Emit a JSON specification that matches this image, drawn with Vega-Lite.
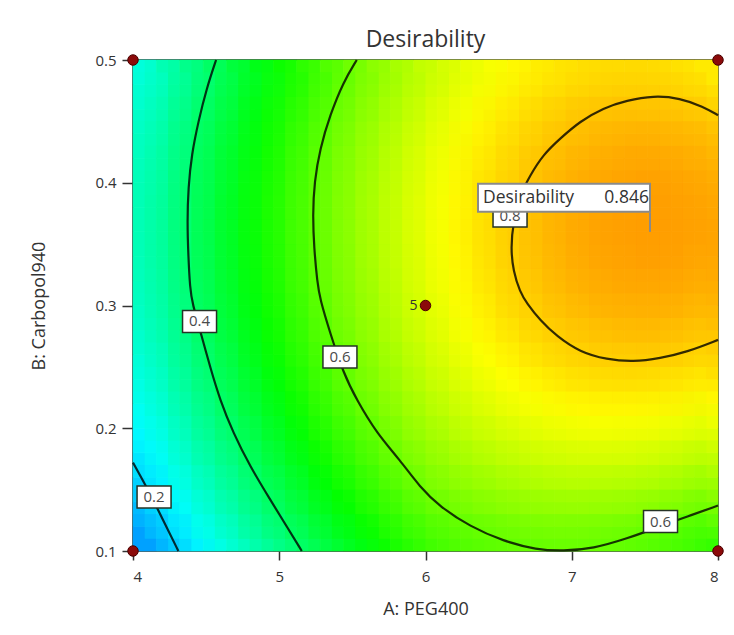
{
"$schema": "https://vega.github.io/schema/vega-lite/v6.json",
"width": 585,
"height": 491,
"autosize": "none",
"padding": {"left": 133, "top": 60, "right": 16, "bottom": 84},
"background": "white",
"config": {
  "font": "Open Sans",
  "view": {"stroke": "#1f2a1f", "strokeWidth": 1.5},
  "axis": {"grid": false, "domain": false, "tickWidth": 1.5, "tickColor": "#333333", "labelFontSize": 15, "labelColor": "#333333", "titleFontSize": 18, "titleFontWeight": "normal", "titleColor": "#333333"}
},
"title": {"text": "Desirability", "fontSize": 23, "fontWeight": "normal", "color": "#333333", "offset": 1, "anchor": "middle"},
"datasets": {
"grid": [
{"a":4.08,"b":0.11,"d":0.158},{"a":4.08,"b":0.13,"d":0.183},{"a":4.08,"b":0.15,"d":0.205},{"a":4.08,"b":0.17,"d":0.226},{"a":4.08,"b":0.19,"d":0.245},{"a":4.08,"b":0.21,"d":0.261},{"a":4.08,"b":0.23,"d":0.276},{"a":4.08,"b":0.25,"d":0.288},{"a":4.08,"b":0.27,"d":0.299},{"a":4.08,"b":0.29,"d":0.308},{"a":4.08,"b":0.31,"d":0.314},{"a":4.08,"b":0.33,"d":0.319},{"a":4.08,"b":0.35,"d":0.321},{"a":4.08,"b":0.37,"d":0.322},{"a":4.08,"b":0.39,"d":0.321},{"a":4.08,"b":0.41,"d":0.317},{"a":4.08,"b":0.43,"d":0.312},{"a":4.08,"b":0.45,"d":0.304},{"a":4.08,"b":0.47,"d":0.295},{"a":4.08,"b":0.49,"d":0.284},
{"a":4.24,"b":0.11,"d":0.198},{"a":4.24,"b":0.13,"d":0.223},{"a":4.24,"b":0.15,"d":0.245},{"a":4.24,"b":0.17,"d":0.266},{"a":4.24,"b":0.19,"d":0.285},{"a":4.24,"b":0.21,"d":0.301},{"a":4.24,"b":0.23,"d":0.316},{"a":4.24,"b":0.25,"d":0.328},{"a":4.24,"b":0.27,"d":0.339},{"a":4.24,"b":0.29,"d":0.348},{"a":4.24,"b":0.31,"d":0.354},{"a":4.24,"b":0.33,"d":0.359},{"a":4.24,"b":0.35,"d":0.361},{"a":4.24,"b":0.37,"d":0.362},{"a":4.24,"b":0.39,"d":0.361},{"a":4.24,"b":0.41,"d":0.357},{"a":4.24,"b":0.43,"d":0.352},{"a":4.24,"b":0.45,"d":0.344},{"a":4.24,"b":0.47,"d":0.335},{"a":4.24,"b":0.49,"d":0.324},
{"a":4.4,"b":0.11,"d":0.238},{"a":4.4,"b":0.13,"d":0.263},{"a":4.4,"b":0.15,"d":0.285},{"a":4.4,"b":0.17,"d":0.306},{"a":4.4,"b":0.19,"d":0.325},{"a":4.4,"b":0.21,"d":0.341},{"a":4.4,"b":0.23,"d":0.356},{"a":4.4,"b":0.25,"d":0.368},{"a":4.4,"b":0.27,"d":0.379},{"a":4.4,"b":0.29,"d":0.388},{"a":4.4,"b":0.31,"d":0.394},{"a":4.4,"b":0.33,"d":0.399},{"a":4.4,"b":0.35,"d":0.401},{"a":4.4,"b":0.37,"d":0.402},{"a":4.4,"b":0.39,"d":0.401},{"a":4.4,"b":0.41,"d":0.397},{"a":4.4,"b":0.43,"d":0.392},{"a":4.4,"b":0.45,"d":0.384},{"a":4.4,"b":0.47,"d":0.375},{"a":4.4,"b":0.49,"d":0.364},
{"a":4.56,"b":0.11,"d":0.276},{"a":4.56,"b":0.13,"d":0.301},{"a":4.56,"b":0.15,"d":0.323},{"a":4.56,"b":0.17,"d":0.344},{"a":4.56,"b":0.19,"d":0.363},{"a":4.56,"b":0.21,"d":0.379},{"a":4.56,"b":0.23,"d":0.394},{"a":4.56,"b":0.25,"d":0.406},{"a":4.56,"b":0.27,"d":0.417},{"a":4.56,"b":0.29,"d":0.426},{"a":4.56,"b":0.31,"d":0.432},{"a":4.56,"b":0.33,"d":0.437},{"a":4.56,"b":0.35,"d":0.439},{"a":4.56,"b":0.37,"d":0.44},{"a":4.56,"b":0.39,"d":0.439},{"a":4.56,"b":0.41,"d":0.435},{"a":4.56,"b":0.43,"d":0.43},{"a":4.56,"b":0.45,"d":0.422},{"a":4.56,"b":0.47,"d":0.413},{"a":4.56,"b":0.49,"d":0.402},
{"a":4.72,"b":0.11,"d":0.314},{"a":4.72,"b":0.13,"d":0.339},{"a":4.72,"b":0.15,"d":0.361},{"a":4.72,"b":0.17,"d":0.382},{"a":4.72,"b":0.19,"d":0.401},{"a":4.72,"b":0.21,"d":0.417},{"a":4.72,"b":0.23,"d":0.432},{"a":4.72,"b":0.25,"d":0.444},{"a":4.72,"b":0.27,"d":0.455},{"a":4.72,"b":0.29,"d":0.464},{"a":4.72,"b":0.31,"d":0.47},{"a":4.72,"b":0.33,"d":0.475},{"a":4.72,"b":0.35,"d":0.477},{"a":4.72,"b":0.37,"d":0.478},{"a":4.72,"b":0.39,"d":0.477},{"a":4.72,"b":0.41,"d":0.473},{"a":4.72,"b":0.43,"d":0.468},{"a":4.72,"b":0.45,"d":0.46},{"a":4.72,"b":0.47,"d":0.451},{"a":4.72,"b":0.49,"d":0.44},
{"a":4.88,"b":0.11,"d":0.351},{"a":4.88,"b":0.13,"d":0.376},{"a":4.88,"b":0.15,"d":0.398},{"a":4.88,"b":0.17,"d":0.419},{"a":4.88,"b":0.19,"d":0.438},{"a":4.88,"b":0.21,"d":0.454},{"a":4.88,"b":0.23,"d":0.469},{"a":4.88,"b":0.25,"d":0.481},{"a":4.88,"b":0.27,"d":0.492},{"a":4.88,"b":0.29,"d":0.501},{"a":4.88,"b":0.31,"d":0.507},{"a":4.88,"b":0.33,"d":0.512},{"a":4.88,"b":0.35,"d":0.514},{"a":4.88,"b":0.37,"d":0.515},{"a":4.88,"b":0.39,"d":0.514},{"a":4.88,"b":0.41,"d":0.51},{"a":4.88,"b":0.43,"d":0.505},{"a":4.88,"b":0.45,"d":0.497},{"a":4.88,"b":0.47,"d":0.488},{"a":4.88,"b":0.49,"d":0.477},
{"a":5.04,"b":0.11,"d":0.386},{"a":5.04,"b":0.13,"d":0.411},{"a":5.04,"b":0.15,"d":0.433},{"a":5.04,"b":0.17,"d":0.454},{"a":5.04,"b":0.19,"d":0.473},{"a":5.04,"b":0.21,"d":0.489},{"a":5.04,"b":0.23,"d":0.504},{"a":5.04,"b":0.25,"d":0.516},{"a":5.04,"b":0.27,"d":0.527},{"a":5.04,"b":0.29,"d":0.536},{"a":5.04,"b":0.31,"d":0.542},{"a":5.04,"b":0.33,"d":0.547},{"a":5.04,"b":0.35,"d":0.549},{"a":5.04,"b":0.37,"d":0.55},{"a":5.04,"b":0.39,"d":0.549},{"a":5.04,"b":0.41,"d":0.545},{"a":5.04,"b":0.43,"d":0.54},{"a":5.04,"b":0.45,"d":0.532},{"a":5.04,"b":0.47,"d":0.523},{"a":5.04,"b":0.49,"d":0.512},
{"a":5.2,"b":0.11,"d":0.42},{"a":5.2,"b":0.13,"d":0.445},{"a":5.2,"b":0.15,"d":0.467},{"a":5.2,"b":0.17,"d":0.488},{"a":5.2,"b":0.19,"d":0.507},{"a":5.2,"b":0.21,"d":0.523},{"a":5.2,"b":0.23,"d":0.538},{"a":5.2,"b":0.25,"d":0.55},{"a":5.2,"b":0.27,"d":0.561},{"a":5.2,"b":0.29,"d":0.57},{"a":5.2,"b":0.31,"d":0.576},{"a":5.2,"b":0.33,"d":0.581},{"a":5.2,"b":0.35,"d":0.583},{"a":5.2,"b":0.37,"d":0.584},{"a":5.2,"b":0.39,"d":0.583},{"a":5.2,"b":0.41,"d":0.579},{"a":5.2,"b":0.43,"d":0.574},{"a":5.2,"b":0.45,"d":0.566},{"a":5.2,"b":0.47,"d":0.557},{"a":5.2,"b":0.49,"d":0.546},
{"a":5.36,"b":0.11,"d":0.453},{"a":5.36,"b":0.13,"d":0.478},{"a":5.36,"b":0.15,"d":0.5},{"a":5.36,"b":0.17,"d":0.521},{"a":5.36,"b":0.19,"d":0.54},{"a":5.36,"b":0.21,"d":0.556},{"a":5.36,"b":0.23,"d":0.571},{"a":5.36,"b":0.25,"d":0.583},{"a":5.36,"b":0.27,"d":0.594},{"a":5.36,"b":0.29,"d":0.603},{"a":5.36,"b":0.31,"d":0.609},{"a":5.36,"b":0.33,"d":0.614},{"a":5.36,"b":0.35,"d":0.616},{"a":5.36,"b":0.37,"d":0.617},{"a":5.36,"b":0.39,"d":0.616},{"a":5.36,"b":0.41,"d":0.612},{"a":5.36,"b":0.43,"d":0.607},{"a":5.36,"b":0.45,"d":0.599},{"a":5.36,"b":0.47,"d":0.59},{"a":5.36,"b":0.49,"d":0.579},
{"a":5.52,"b":0.11,"d":0.483},{"a":5.52,"b":0.13,"d":0.508},{"a":5.52,"b":0.15,"d":0.53},{"a":5.52,"b":0.17,"d":0.551},{"a":5.52,"b":0.19,"d":0.57},{"a":5.52,"b":0.21,"d":0.586},{"a":5.52,"b":0.23,"d":0.601},{"a":5.52,"b":0.25,"d":0.613},{"a":5.52,"b":0.27,"d":0.624},{"a":5.52,"b":0.29,"d":0.633},{"a":5.52,"b":0.31,"d":0.639},{"a":5.52,"b":0.33,"d":0.644},{"a":5.52,"b":0.35,"d":0.646},{"a":5.52,"b":0.37,"d":0.647},{"a":5.52,"b":0.39,"d":0.646},{"a":5.52,"b":0.41,"d":0.642},{"a":5.52,"b":0.43,"d":0.637},{"a":5.52,"b":0.45,"d":0.629},{"a":5.52,"b":0.47,"d":0.62},{"a":5.52,"b":0.49,"d":0.609},
{"a":5.68,"b":0.11,"d":0.512},{"a":5.68,"b":0.13,"d":0.537},{"a":5.68,"b":0.15,"d":0.559},{"a":5.68,"b":0.17,"d":0.58},{"a":5.68,"b":0.19,"d":0.599},{"a":5.68,"b":0.21,"d":0.615},{"a":5.68,"b":0.23,"d":0.63},{"a":5.68,"b":0.25,"d":0.642},{"a":5.68,"b":0.27,"d":0.653},{"a":5.68,"b":0.29,"d":0.662},{"a":5.68,"b":0.31,"d":0.668},{"a":5.68,"b":0.33,"d":0.673},{"a":5.68,"b":0.35,"d":0.675},{"a":5.68,"b":0.37,"d":0.676},{"a":5.68,"b":0.39,"d":0.675},{"a":5.68,"b":0.41,"d":0.671},{"a":5.68,"b":0.43,"d":0.666},{"a":5.68,"b":0.45,"d":0.658},{"a":5.68,"b":0.47,"d":0.649},{"a":5.68,"b":0.49,"d":0.638},
{"a":5.84,"b":0.11,"d":0.539},{"a":5.84,"b":0.13,"d":0.564},{"a":5.84,"b":0.15,"d":0.586},{"a":5.84,"b":0.17,"d":0.607},{"a":5.84,"b":0.19,"d":0.626},{"a":5.84,"b":0.21,"d":0.642},{"a":5.84,"b":0.23,"d":0.657},{"a":5.84,"b":0.25,"d":0.669},{"a":5.84,"b":0.27,"d":0.68},{"a":5.84,"b":0.29,"d":0.689},{"a":5.84,"b":0.31,"d":0.695},{"a":5.84,"b":0.33,"d":0.7},{"a":5.84,"b":0.35,"d":0.702},{"a":5.84,"b":0.37,"d":0.703},{"a":5.84,"b":0.39,"d":0.702},{"a":5.84,"b":0.41,"d":0.698},{"a":5.84,"b":0.43,"d":0.693},{"a":5.84,"b":0.45,"d":0.685},{"a":5.84,"b":0.47,"d":0.676},{"a":5.84,"b":0.49,"d":0.665},
{"a":6.0,"b":0.11,"d":0.564},{"a":6.0,"b":0.13,"d":0.589},{"a":6.0,"b":0.15,"d":0.611},{"a":6.0,"b":0.17,"d":0.632},{"a":6.0,"b":0.19,"d":0.651},{"a":6.0,"b":0.21,"d":0.667},{"a":6.0,"b":0.23,"d":0.682},{"a":6.0,"b":0.25,"d":0.694},{"a":6.0,"b":0.27,"d":0.705},{"a":6.0,"b":0.29,"d":0.714},{"a":6.0,"b":0.31,"d":0.72},{"a":6.0,"b":0.33,"d":0.725},{"a":6.0,"b":0.35,"d":0.727},{"a":6.0,"b":0.37,"d":0.728},{"a":6.0,"b":0.39,"d":0.727},{"a":6.0,"b":0.41,"d":0.723},{"a":6.0,"b":0.43,"d":0.718},{"a":6.0,"b":0.45,"d":0.71},{"a":6.0,"b":0.47,"d":0.701},{"a":6.0,"b":0.49,"d":0.69},
{"a":6.16,"b":0.11,"d":0.577},{"a":6.16,"b":0.13,"d":0.603},{"a":6.16,"b":0.15,"d":0.627},{"a":6.16,"b":0.17,"d":0.649},{"a":6.16,"b":0.19,"d":0.669},{"a":6.16,"b":0.21,"d":0.687},{"a":6.16,"b":0.23,"d":0.702},{"a":6.16,"b":0.25,"d":0.715},{"a":6.16,"b":0.27,"d":0.727},{"a":6.16,"b":0.29,"d":0.736},{"a":6.16,"b":0.31,"d":0.743},{"a":6.16,"b":0.33,"d":0.748},{"a":6.16,"b":0.35,"d":0.75},{"a":6.16,"b":0.37,"d":0.751},{"a":6.16,"b":0.39,"d":0.75},{"a":6.16,"b":0.41,"d":0.746},{"a":6.16,"b":0.43,"d":0.74},{"a":6.16,"b":0.45,"d":0.732},{"a":6.16,"b":0.47,"d":0.722},{"a":6.16,"b":0.49,"d":0.71},
{"a":6.32,"b":0.11,"d":0.587},{"a":6.32,"b":0.13,"d":0.614},{"a":6.32,"b":0.15,"d":0.64},{"a":6.32,"b":0.17,"d":0.663},{"a":6.32,"b":0.19,"d":0.684},{"a":6.32,"b":0.21,"d":0.703},{"a":6.32,"b":0.23,"d":0.719},{"a":6.32,"b":0.25,"d":0.733},{"a":6.32,"b":0.27,"d":0.745},{"a":6.32,"b":0.29,"d":0.755},{"a":6.32,"b":0.31,"d":0.762},{"a":6.32,"b":0.33,"d":0.767},{"a":6.32,"b":0.35,"d":0.77},{"a":6.32,"b":0.37,"d":0.771},{"a":6.32,"b":0.39,"d":0.769},{"a":6.32,"b":0.41,"d":0.766},{"a":6.32,"b":0.43,"d":0.76},{"a":6.32,"b":0.45,"d":0.751},{"a":6.32,"b":0.47,"d":0.741},{"a":6.32,"b":0.49,"d":0.728},
{"a":6.48,"b":0.11,"d":0.594},{"a":6.48,"b":0.13,"d":0.623},{"a":6.48,"b":0.15,"d":0.65},{"a":6.48,"b":0.17,"d":0.675},{"a":6.48,"b":0.19,"d":0.697},{"a":6.48,"b":0.21,"d":0.717},{"a":6.48,"b":0.23,"d":0.734},{"a":6.48,"b":0.25,"d":0.749},{"a":6.48,"b":0.27,"d":0.762},{"a":6.48,"b":0.29,"d":0.772},{"a":6.48,"b":0.31,"d":0.78},{"a":6.48,"b":0.33,"d":0.785},{"a":6.48,"b":0.35,"d":0.788},{"a":6.48,"b":0.37,"d":0.789},{"a":6.48,"b":0.39,"d":0.787},{"a":6.48,"b":0.41,"d":0.783},{"a":6.48,"b":0.43,"d":0.777},{"a":6.48,"b":0.45,"d":0.768},{"a":6.48,"b":0.47,"d":0.757},{"a":6.48,"b":0.49,"d":0.743},
{"a":6.64,"b":0.11,"d":0.6},{"a":6.64,"b":0.13,"d":0.631},{"a":6.64,"b":0.15,"d":0.659},{"a":6.64,"b":0.17,"d":0.685},{"a":6.64,"b":0.19,"d":0.708},{"a":6.64,"b":0.21,"d":0.729},{"a":6.64,"b":0.23,"d":0.747},{"a":6.64,"b":0.25,"d":0.763},{"a":6.64,"b":0.27,"d":0.776},{"a":6.64,"b":0.29,"d":0.787},{"a":6.64,"b":0.31,"d":0.795},{"a":6.64,"b":0.33,"d":0.801},{"a":6.64,"b":0.35,"d":0.804},{"a":6.64,"b":0.37,"d":0.805},{"a":6.64,"b":0.39,"d":0.803},{"a":6.64,"b":0.41,"d":0.799},{"a":6.64,"b":0.43,"d":0.792},{"a":6.64,"b":0.45,"d":0.783},{"a":6.64,"b":0.47,"d":0.771},{"a":6.64,"b":0.49,"d":0.757},
{"a":6.8,"b":0.11,"d":0.603},{"a":6.8,"b":0.13,"d":0.636},{"a":6.8,"b":0.15,"d":0.665},{"a":6.8,"b":0.17,"d":0.692},{"a":6.8,"b":0.19,"d":0.717},{"a":6.8,"b":0.21,"d":0.738},{"a":6.8,"b":0.23,"d":0.757},{"a":6.8,"b":0.25,"d":0.774},{"a":6.8,"b":0.27,"d":0.788},{"a":6.8,"b":0.29,"d":0.799},{"a":6.8,"b":0.31,"d":0.808},{"a":6.8,"b":0.33,"d":0.814},{"a":6.8,"b":0.35,"d":0.817},{"a":6.8,"b":0.37,"d":0.818},{"a":6.8,"b":0.39,"d":0.816},{"a":6.8,"b":0.41,"d":0.812},{"a":6.8,"b":0.43,"d":0.805},{"a":6.8,"b":0.45,"d":0.795},{"a":6.8,"b":0.47,"d":0.783},{"a":6.8,"b":0.49,"d":0.768},
{"a":6.96,"b":0.11,"d":0.604},{"a":6.96,"b":0.13,"d":0.638},{"a":6.96,"b":0.15,"d":0.669},{"a":6.96,"b":0.17,"d":0.697},{"a":6.96,"b":0.19,"d":0.723},{"a":6.96,"b":0.21,"d":0.745},{"a":6.96,"b":0.23,"d":0.766},{"a":6.96,"b":0.25,"d":0.783},{"a":6.96,"b":0.27,"d":0.797},{"a":6.96,"b":0.29,"d":0.809},{"a":6.96,"b":0.31,"d":0.818},{"a":6.96,"b":0.33,"d":0.825},{"a":6.96,"b":0.35,"d":0.828},{"a":6.96,"b":0.37,"d":0.829},{"a":6.96,"b":0.39,"d":0.827},{"a":6.96,"b":0.41,"d":0.822},{"a":6.96,"b":0.43,"d":0.815},{"a":6.96,"b":0.45,"d":0.805},{"a":6.96,"b":0.47,"d":0.792},{"a":6.96,"b":0.49,"d":0.776},
{"a":7.12,"b":0.11,"d":0.602},{"a":7.12,"b":0.13,"d":0.637},{"a":7.12,"b":0.15,"d":0.669},{"a":7.12,"b":0.17,"d":0.699},{"a":7.12,"b":0.19,"d":0.726},{"a":7.12,"b":0.21,"d":0.75},{"a":7.12,"b":0.23,"d":0.771},{"a":7.12,"b":0.25,"d":0.789},{"a":7.12,"b":0.27,"d":0.804},{"a":7.12,"b":0.29,"d":0.816},{"a":7.12,"b":0.31,"d":0.826},{"a":7.12,"b":0.33,"d":0.832},{"a":7.12,"b":0.35,"d":0.836},{"a":7.12,"b":0.37,"d":0.837},{"a":7.12,"b":0.39,"d":0.835},{"a":7.12,"b":0.41,"d":0.83},{"a":7.12,"b":0.43,"d":0.822},{"a":7.12,"b":0.45,"d":0.812},{"a":7.12,"b":0.47,"d":0.798},{"a":7.12,"b":0.49,"d":0.782},
{"a":7.28,"b":0.11,"d":0.597},{"a":7.28,"b":0.13,"d":0.634},{"a":7.28,"b":0.15,"d":0.668},{"a":7.28,"b":0.17,"d":0.698},{"a":7.28,"b":0.19,"d":0.726},{"a":7.28,"b":0.21,"d":0.751},{"a":7.28,"b":0.23,"d":0.773},{"a":7.28,"b":0.25,"d":0.792},{"a":7.28,"b":0.27,"d":0.808},{"a":7.28,"b":0.29,"d":0.821},{"a":7.28,"b":0.31,"d":0.831},{"a":7.28,"b":0.33,"d":0.838},{"a":7.28,"b":0.35,"d":0.842},{"a":7.28,"b":0.37,"d":0.842},{"a":7.28,"b":0.39,"d":0.84},{"a":7.28,"b":0.41,"d":0.835},{"a":7.28,"b":0.43,"d":0.827},{"a":7.28,"b":0.45,"d":0.816},{"a":7.28,"b":0.47,"d":0.802},{"a":7.28,"b":0.49,"d":0.785},
{"a":7.44,"b":0.11,"d":0.59},{"a":7.44,"b":0.13,"d":0.628},{"a":7.44,"b":0.15,"d":0.664},{"a":7.44,"b":0.17,"d":0.696},{"a":7.44,"b":0.19,"d":0.725},{"a":7.44,"b":0.21,"d":0.751},{"a":7.44,"b":0.23,"d":0.773},{"a":7.44,"b":0.25,"d":0.793},{"a":7.44,"b":0.27,"d":0.81},{"a":7.44,"b":0.29,"d":0.823},{"a":7.44,"b":0.31,"d":0.833},{"a":7.44,"b":0.33,"d":0.84},{"a":7.44,"b":0.35,"d":0.845},{"a":7.44,"b":0.37,"d":0.845},{"a":7.44,"b":0.39,"d":0.843},{"a":7.44,"b":0.41,"d":0.838},{"a":7.44,"b":0.43,"d":0.83},{"a":7.44,"b":0.45,"d":0.818},{"a":7.44,"b":0.47,"d":0.803},{"a":7.44,"b":0.49,"d":0.786},
{"a":7.6,"b":0.11,"d":0.58},{"a":7.6,"b":0.13,"d":0.62},{"a":7.6,"b":0.15,"d":0.657},{"a":7.6,"b":0.17,"d":0.69},{"a":7.6,"b":0.19,"d":0.72},{"a":7.6,"b":0.21,"d":0.747},{"a":7.6,"b":0.23,"d":0.771},{"a":7.6,"b":0.25,"d":0.791},{"a":7.6,"b":0.27,"d":0.809},{"a":7.6,"b":0.29,"d":0.823},{"a":7.6,"b":0.31,"d":0.833},{"a":7.6,"b":0.33,"d":0.841},{"a":7.6,"b":0.35,"d":0.845},{"a":7.6,"b":0.37,"d":0.846},{"a":7.6,"b":0.39,"d":0.844},{"a":7.6,"b":0.41,"d":0.838},{"a":7.6,"b":0.43,"d":0.829},{"a":7.6,"b":0.45,"d":0.817},{"a":7.6,"b":0.47,"d":0.802},{"a":7.6,"b":0.49,"d":0.784},
{"a":7.76,"b":0.11,"d":0.567},{"a":7.76,"b":0.13,"d":0.609},{"a":7.76,"b":0.15,"d":0.647},{"a":7.76,"b":0.17,"d":0.682},{"a":7.76,"b":0.19,"d":0.713},{"a":7.76,"b":0.21,"d":0.741},{"a":7.76,"b":0.23,"d":0.766},{"a":7.76,"b":0.25,"d":0.787},{"a":7.76,"b":0.27,"d":0.805},{"a":7.76,"b":0.29,"d":0.819},{"a":7.76,"b":0.31,"d":0.83},{"a":7.76,"b":0.33,"d":0.838},{"a":7.76,"b":0.35,"d":0.842},{"a":7.76,"b":0.37,"d":0.843},{"a":7.76,"b":0.39,"d":0.841},{"a":7.76,"b":0.41,"d":0.835},{"a":7.76,"b":0.43,"d":0.826},{"a":7.76,"b":0.45,"d":0.814},{"a":7.76,"b":0.47,"d":0.798},{"a":7.76,"b":0.49,"d":0.779},
{"a":7.92,"b":0.11,"d":0.552},{"a":7.92,"b":0.13,"d":0.595},{"a":7.92,"b":0.15,"d":0.635},{"a":7.92,"b":0.17,"d":0.671},{"a":7.92,"b":0.19,"d":0.703},{"a":7.92,"b":0.21,"d":0.732},{"a":7.92,"b":0.23,"d":0.758},{"a":7.92,"b":0.25,"d":0.78},{"a":7.92,"b":0.27,"d":0.798},{"a":7.92,"b":0.29,"d":0.813},{"a":7.92,"b":0.31,"d":0.825},{"a":7.92,"b":0.33,"d":0.833},{"a":7.92,"b":0.35,"d":0.838},{"a":7.92,"b":0.37,"d":0.839},{"a":7.92,"b":0.39,"d":0.836},{"a":7.92,"b":0.41,"d":0.83},{"a":7.92,"b":0.43,"d":0.821},{"a":7.92,"b":0.45,"d":0.808},{"a":7.92,"b":0.47,"d":0.791},{"a":7.92,"b":0.49,"d":0.771}
],
"iso": [
{"lv":"0.2","s":1,"a":4.0,"b":0.172},{"lv":"0.2","s":2,"a":4.094,"b":0.152},{"lv":"0.2","s":3,"a":4.207,"b":0.125},{"lv":"0.2","s":4,"a":4.31,"b":0.1},
{"lv":"0.4","s":1,"a":4.568,"b":0.5},{"lv":"0.4","s":2,"a":4.504,"b":0.477},{"lv":"0.4","s":3,"a":4.447,"b":0.45},{"lv":"0.4","s":4,"a":4.401,"b":0.423},{"lv":"0.4","s":5,"a":4.378,"b":0.396},{"lv":"0.4","s":6,"a":4.371,"b":0.368},{"lv":"0.4","s":7,"a":4.378,"b":0.341},{"lv":"0.4","s":8,"a":4.39,"b":0.314},{"lv":"0.4","s":9,"a":4.405,"b":0.302},{"lv":"0.4","s":10,"a":4.47,"b":0.275},{"lv":"0.4","s":11,"a":4.527,"b":0.25},{"lv":"0.4","s":12,"a":4.595,"b":0.223},{"lv":"0.4","s":13,"a":4.686,"b":0.196},{"lv":"0.4","s":14,"a":4.8,"b":0.169},{"lv":"0.4","s":15,"a":4.937,"b":0.142},{"lv":"0.4","s":16,"a":5.051,"b":0.12},{"lv":"0.4","s":17,"a":5.154,"b":0.1},
{"lv":"0.6","s":1,"a":5.53,"b":0.5},{"lv":"0.6","s":2,"a":5.438,"b":0.482},{"lv":"0.6","s":3,"a":5.347,"b":0.455},{"lv":"0.6","s":4,"a":5.279,"b":0.428},{"lv":"0.6","s":5,"a":5.24,"b":0.401},{"lv":"0.6","s":6,"a":5.229,"b":0.374},{"lv":"0.6","s":7,"a":5.238,"b":0.347},{"lv":"0.6","s":8,"a":5.26,"b":0.319},{"lv":"0.6","s":9,"a":5.279,"b":0.305},{"lv":"0.6","s":10,"a":5.347,"b":0.278},{"lv":"0.6","s":11,"a":5.438,"b":0.245},{"lv":"0.6","s":12,"a":5.53,"b":0.223},{"lv":"0.6","s":13,"a":5.666,"b":0.196},{"lv":"0.6","s":14,"a":5.826,"b":0.174},{"lv":"0.6","s":15,"a":5.962,"b":0.152},{"lv":"0.6","s":16,"a":6.099,"b":0.136},{"lv":"0.6","s":17,"a":6.304,"b":0.12},{"lv":"0.6","s":18,"a":6.532,"b":0.108},{"lv":"0.6","s":19,"a":6.76,"b":0.101},{"lv":"0.6","s":20,"a":6.942,"b":0.1},{"lv":"0.6","s":21,"a":7.147,"b":0.102},{"lv":"0.6","s":22,"a":7.376,"b":0.11},{"lv":"0.6","s":23,"a":7.604,"b":0.12},{"lv":"0.6","s":24,"a":7.786,"b":0.128},{"lv":"0.6","s":25,"a":8.0,"b":0.137},
{"lv":"0.8","s":1,"a":8.0,"b":0.455},{"lv":"0.8","s":2,"a":7.9,"b":0.462},{"lv":"0.8","s":3,"a":7.74,"b":0.469},{"lv":"0.8","s":4,"a":7.558,"b":0.471},{"lv":"0.8","s":5,"a":7.376,"b":0.467},{"lv":"0.8","s":6,"a":7.216,"b":0.461},{"lv":"0.8","s":7,"a":7.056,"b":0.45},{"lv":"0.8","s":8,"a":6.92,"b":0.436},{"lv":"0.8","s":9,"a":6.805,"b":0.423},{"lv":"0.8","s":10,"a":6.715,"b":0.406},{"lv":"0.8","s":11,"a":6.646,"b":0.39},{"lv":"0.8","s":12,"a":6.6,"b":0.368},{"lv":"0.8","s":13,"a":6.583,"b":0.347},{"lv":"0.8","s":14,"a":6.6,"b":0.328},{"lv":"0.8","s":15,"a":6.646,"b":0.311},{"lv":"0.8","s":16,"a":6.692,"b":0.302},{"lv":"0.8","s":17,"a":6.783,"b":0.288},{"lv":"0.8","s":18,"a":6.897,"b":0.275},{"lv":"0.8","s":19,"a":7.056,"b":0.262},{"lv":"0.8","s":20,"a":7.239,"b":0.256},{"lv":"0.8","s":21,"a":7.421,"b":0.254},{"lv":"0.8","s":22,"a":7.604,"b":0.257},{"lv":"0.8","s":23,"a":7.786,"b":0.262},{"lv":"0.8","s":24,"a":8.0,"b":0.272}
],
"tags": [
{"t":"0.2","a":4.144,"b":0.144},
{"t":"0.4","a":4.455,"b":0.287},
{"t":"0.6","a":5.415,"b":0.258},
{"t":"0.6","a":7.607,"b":0.124},
{"t":"0.8","a":6.578,"b":0.373}
],
"runs": [
{"a":4,"b":0.1,"n":1},{"a":4,"b":0.5,"n":1},{"a":8,"b":0.1,"n":1},{"a":8,"b":0.5,"n":1},{"a":6,"b":0.3,"n":5}
],
"opt": [
{"a":7.535,"b":0.36,"d":0.846}
]
},
"layer": [
{
  "data": {"name": "grid"},
  "encoding": {
    "x": {"field": "a", "type": "ordinal", "scale": {"paddingInner": 0, "paddingOuter": 0}, "axis": null},
    "y": {"field": "b", "type": "ordinal", "sort": "descending", "scale": {"paddingInner": 0, "paddingOuter": 0}, "axis": null},
    "color": {"field": "d", "type": "quantitative", "legend": null,
      "scale": {"domain": [0, 0.25, 0.5, 0.75, 1], "range": ["#0000ff", "#00ffff", "#00ff00", "#ffff00", "#ff0000"], "interpolate": "rgb"}},
    "stroke": {"field": "d", "type": "quantitative", "legend": null,
      "scale": {"domain": [0, 0.25, 0.5, 0.75, 1], "range": ["#0000ff", "#00ffff", "#00ff00", "#ffff00", "#ff0000"], "interpolate": "rgb"}}
  },
  "layer": [
    {"mark": {"type": "rect", "strokeWidth": 0.6}},
    {"mark": {"type": "rect", "strokeWidth": 0, "opacity": 0.5, "xOffset": 11.7, "yOffset": 12.3, "clip": true}},
    {"mark": {"type": "rect", "strokeWidth": 0, "opacity": 0.33, "xOffset": -11.7, "yOffset": -12.3, "clip": true}}
  ]
},
{
  "encoding": {
    "x": {"field": "a", "type": "quantitative", "scale": {"domain": [4, 8], "nice": false, "zero": false},
      "axis": {"title": "A: PEG400", "values": [4, 5, 6, 7, 8], "format": "d", "tickSize": 9, "labelPadding": 9, "titlePadding": 16}},
    "y": {"field": "b", "type": "quantitative", "scale": {"domain": [0.1, 0.5], "nice": false, "zero": false},
      "axis": {"title": "B: Carbopol940", "values": [0.1, 0.2, 0.3, 0.4, 0.5], "format": ".1f", "tickSize": 11, "labelPadding": 6, "titlePadding": 46}}
  },
  "layer": [
    {
      "data": {"name": "iso"},
      "mark": {"type": "line", "interpolate": "basis", "strokeWidth": 2.2, "color": "#000000", "opacity": 0.8},
      "encoding": {"detail": {"field": "lv", "type": "nominal"}, "order": {"field": "s", "type": "quantitative"}}
    },
    {
      "data": {"name": "tags"},
      "mark": {"type": "point", "shape": "M-1,-0.65H1V0.65H-1Z", "size": 1156, "filled": true, "fill": "#ffffff", "stroke": "#263326", "strokeWidth": 1.5, "opacity": 1}
    },
    {
      "data": {"name": "tags"},
      "mark": {"type": "text", "fontSize": 15, "color": "#4a4a4a", "baseline": "middle", "align": "center"},
      "encoding": {"text": {"field": "t", "type": "nominal"}}
    },
    {
      "data": {"name": "runs"},
      "mark": {"type": "circle", "size": 110, "color": "#8b0a0a", "stroke": "#4a0000", "strokeWidth": 1, "opacity": 1}
    },
    {
      "data": {"name": "runs"},
      "transform": [{"filter": "datum.n > 1"}],
      "mark": {"type": "text", "align": "right", "baseline": "middle", "dx": -8, "fontSize": 14, "color": "#333333"},
      "encoding": {"text": {"field": "n", "type": "quantitative"}}
    },
    {
      "data": {"name": "opt"},
      "mark": {"type": "point", "shape": "M0,0V-1", "size": 1444, "filled": false, "stroke": "#8a8a8a", "strokeWidth": 2, "opacity": 1}
    },
    {
      "data": {"name": "opt"},
      "mark": {"type": "point", "shape": "M-1,-0.163H1V0.163H-1Z", "size": 29584, "xOffset": -86, "yOffset": -34, "filled": true, "fill": "#ffffff", "stroke": "#8a8a8a", "strokeWidth": 2, "opacity": 1}
    },
    {
      "data": {"name": "opt"},
      "mark": {"type": "text", "align": "left", "baseline": "middle", "dx": -167, "dy": -34, "fontSize": 17.5, "color": "#333333"},
      "encoding": {"text": {"value": "Desirability"}}
    },
    {
      "data": {"name": "opt"},
      "mark": {"type": "text", "align": "right", "baseline": "middle", "dx": -1, "dy": -34, "fontSize": 17.5, "color": "#333333"},
      "encoding": {"text": {"field": "d", "type": "quantitative", "format": ".3f"}}
    }
  ]
}
],
"resolve": {"scale": {"x": "independent", "y": "independent", "color": "independent", "stroke": "independent"}}
}
